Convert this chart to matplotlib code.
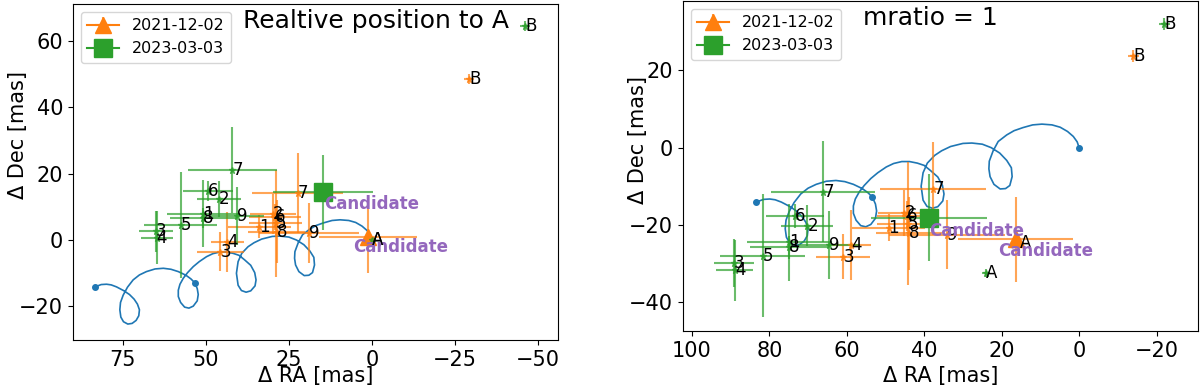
import matplotlib
matplotlib.use("Agg")
import matplotlib.pyplot as plt

# star labels
star_names = ["1", "2", "3", "4", "5", "6", "7", "8", "9"]

# 2021-12-02 epoch, relative to A [mas]
ra_2021 = [33.9, 29.8, 45.6, 43.5, 29.0, 29.2, 22.4, 28.7, 18.9]
dec_2021 = [4.0, 7.8, -3.5, -0.5, 5.0, 7.0, 14.1, 2.5, 2.2]
ra_err_2021 = [9.5, 6.8, 7.0, 5.0, 8.0, 7.8, 13.6, 8.5, 15.0]
dec_err_2021 = [3.5, 6.0, 5.8, 9.0, 16.0, 4.0, 12.0, 9.5, 9.0]

# 2023-03-03 epoch, relative to A [mas]
ra_2023 = [50.8, 46.1, 65.0, 64.8, 57.6, 49.3, 42.0, 50.8, 40.5]
dec_2023 = [8.0, 12.3, 2.7, 0.7, 4.5, 14.8, 21.1, 6.7, 7.3]
ra_err_2023 = [11.0, 6.7, 5.2, 4.8, 11.0, 7.5, 13.5, 10.0, 8.0]
dec_err_2023 = [10.0, 5.4, 6.2, 8.0, 16.0, 3.0, 13.0, 3.0, 8.7]

# binary components A and B
ab_names = ["A", "B"]
ab_ra_2021 = [0.0, -29.3]
ab_dec_2021 = [0.0, 48.5]
ab_ra_2023 = [0.0, -46.1]
ab_dec_2023 = [0.0, 64.5]
ab_err = [1.0, 1.5]

# candidate
cand_ra = [1.1, 14.7]
cand_dec = [1.0, 14.4]
cand_ra_err = [14.8, 15.0]
cand_dec_err = [11.0, 11.3]
epochs = ["2021-12-02", "2023-03-03"]

# shift of A for mratio = 1 frame (2021, 2023)
shift_ra = [15.3, 24.1]
shift_dec = [-24.7, -32.5]

# background track
track_ra = [0.0, 0.5, 1.5, 3.0, 4.9, 7.0, 9.6, 12.0, 14.5, 16.8, 18.7, 20.9, 22.2,
            23.2, 23.3, 23.0, 22.0, 20.4, 19.0, 17.9, 17.3, 17.5, 18.7, 20.5, 22.7,
            25.0, 27.7, 30.0, 33.2, 35.5, 37.3, 39.2, 40.3, 40.8, 40.3, 39.3, 37.9,
            36.5, 35.2, 34.9, 35.3, 36.5, 38.3, 40.0, 41.8, 43.8, 45.8, 47.9, 49.8,
            52.0, 53.8, 55.5, 56.8, 57.8, 58.3, 58.3, 57.6, 56.4, 55.1, 53.8, 52.6,
            52.3, 52.6, 53.4, 54.5, 56.0, 58.3, 60.5, 62.8, 65.3, 67.9, 70.0, 71.9,
            73.6, 74.9, 75.7, 75.9, 75.6, 74.8, 73.5, 72.2, 71.0, 70.2, 70.0, 70.6,
            71.6, 73.0, 74.8, 76.9, 78.5, 79.9, 81.5, 83.4]
track_dec = [0.0, 1.5, 2.9, 4.2, 5.3, 5.9, 6.1, 5.9, 5.2, 4.4, 3.3, 1.6, -0.8,
             -3.5, -5.5, -7.5, -9.5, -10.7, -10.6, -9.8, -7.5, -5.2, -3.3, -1.4, 0.0,
             0.9, 1.2, 1.1, 0.3, -0.8, -2.0, -4.0, -6.5, -10.0, -13.6, -15.2, -15.7,
             -15.3, -13.8, -12.0, -9.8, -7.6, -6.0, -4.6, -4.0, -3.6, -3.6, -4.1, -5.0,
             -6.5, -8.0, -9.8, -11.5, -13.3, -15.1, -17.0, -18.8, -20.2, -20.5, -19.9, -18.3,
             -16.4, -14.6, -12.8, -11.7, -10.6, -9.5, -8.8, -8.5, -8.7, -9.5, -10.5, -12.0,
             -14.2, -16.6, -18.8, -21.0, -23.2, -24.6, -25.3, -25.1, -24.2, -22.8, -21.0, -19.3,
             -17.8, -16.4, -15.2, -14.1, -13.5, -13.3, -13.4, -14.1]
track_dots = [0, 63, len(track_ra) - 1]

fig = plt.figure(figsize=(12, 3.88), dpi=100)
ax1 = fig.add_axes([73 / 1200, 48 / 388, 485 / 1200, 336 / 388])
ax2 = fig.add_axes([683 / 1200, 57 / 388, 515 / 1200, 330 / 388])

colors = ["tab:orange", "tab:green"]
markers = ["^", "s"]
msizes = [11, 13]


def draw_panel(ax, shifted, title, cand_text_pos):
    ax.plot(track_ra, track_dec, color="tab:blue", lw=1.2,
            marker="o", ms=4, markevery=track_dots)

    star_sets = [(ra_2021, dec_2021, ra_err_2021, dec_err_2021, ab_ra_2021, ab_dec_2021),
                 (ra_2023, dec_2023, ra_err_2023, dec_err_2023, ab_ra_2023, ab_dec_2023)]
    handles = []
    for k in range(2):
        ra, dec, rerr, derr, abra, abdec = star_sets[k]
        dx = shift_ra[k] if shifted else 0.0
        dy = shift_dec[k] if shifted else 0.0
        xs = [v + dx for v in ra]
        ys = [v + dy for v in dec]
        ax.errorbar(xs, ys, xerr=rerr, yerr=derr, fmt="*", ms=5,
                    color=colors[k], alpha=0.7, lw=1.5)
        for i in range(len(star_names)):
            ax.text(xs[i], ys[i], star_names[i], fontsize=12,
                    ha="left", va="center")

        bx = [v + dx for v in abra]
        by = [v + dy for v in abdec]
        ax.errorbar(bx, by, xerr=ab_err, yerr=ab_err, fmt="*", ms=5,
                    color=colors[k], alpha=0.7, lw=1.5)
        for i in range(len(ab_names)):
            ax.text(bx[i], by[i], ab_names[i], fontsize=12,
                    ha="left", va="center")

        cx = cand_ra[k] + dx
        cy = cand_dec[k] + dy
        # marker= instead of fmt so the legend handle gets a full line
        eb = ax.errorbar([cx], [cy], xerr=[cand_ra_err[k]], yerr=[cand_dec_err[k]],
                         marker=markers[k], ms=msizes[k], color=colors[k],
                         lw=1.5, label=epochs[k])
        for c in eb[2]:
            c.set_alpha(0.7)
        handles.append(eb)
        tx, ty = cand_text_pos[k]
        ax.text(tx, ty, "Candidate", fontsize=12, fontweight="bold",
                color="tab:purple", ha="left", va="center")

    ax.legend(handles=handles, loc="upper left", fontsize=11.5)
    ax.text(0.35, 0.985, title, transform=ax.transAxes, fontsize=18,
            ha="left", va="top")
    ax.set_xlabel("Δ RA [mas]", fontsize=15)
    ax.set_ylabel("Δ Dec [mas]", fontsize=15)
    ax.tick_params(labelsize=15)


draw_panel(ax1, False, "Realtive position to A", [(5.6, -2.2), (14.5, 11.0)])
ax1.set_xlim(90, -56)
ax1.set_ylim(-30.1, 71.1)
ax1.set_xticks([75, 50, 25, 0, -25, -50])
ax1.set_yticks([-20, 0, 20, 40, 60])
ax1.xaxis.set_label_coords(0.5, -0.077)
ax1.yaxis.set_label_coords(-0.093, 0.61)

draw_panel(ax2, True, "mratio = 1", [(20.9, -26.9), (38.7, -21.6)])
ax2.set_xlim(102.3, -30.7)
ax2.set_ylim(-47.5, 38.0)
ax2.set_xticks([100, 80, 60, 40, 20, 0, -20])
ax2.set_yticks([-40, -20, 0, 20])
ax2.xaxis.set_label_coords(0.5, -0.106)
ax2.yaxis.set_label_coords(-0.068, 0.58)

fig.savefig("out.png", dpi=100)
